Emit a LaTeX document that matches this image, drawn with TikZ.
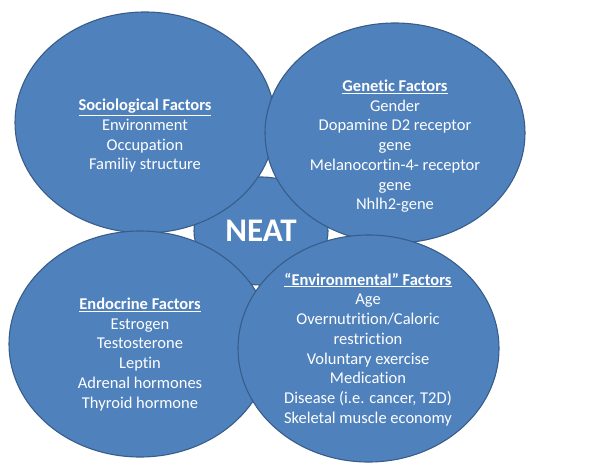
\documentclass[tikz,border=0pt]{standalone}
\usepackage{fontspec}
\setmainfont[Ligatures={TeX,NoCommon}]{Carlito}
\usetikzlibrary{shapes.geometric}
\definecolor{blobfill}{HTML}{4F81BD}
\definecolor{blobedge}{HTML}{385D8A}
\tikzset{
  blob/.style={ellipse, draw=blobedge, fill=blobfill, line width=1.1pt, inner sep=0pt},
  factortext/.style={text=white, align=center, font=\fontsize{16.5}{19.75}\selectfont, inner sep=0pt},
  neattext/.style={text=white, font=\fontsize{33}{36}\selectfont\bfseries, inner sep=0pt}
}
\newcommand{\facttitle}[1]{\underline{\textbf{#1}}}
\begin{document}
\begin{tikzpicture}[x=1pt,y=-1pt]
\useasboundingbox (0,0) rectangle (591,466);
\node[blob, minimum width=134pt, minimum height=108pt] (neat) at (261,231) {};
\node[blob, minimum width=260pt, minimum height=221pt] (soc) at (145,122.5) {};
\node[blob, minimum width=260pt, minimum height=220pt] (gen) at (395,133) {};
\node[blob, minimum width=262pt, minimum height=226pt] (endo) at (140,344) {};
\node[blob, minimum width=261pt, minimum height=227pt] (env) at (368.5,348.5) {};
\node[factortext] (soctext) at (145,135.7) {\facttitle{Sociological Factors}\\Environment\\Occupation\\Familiy structure};
\node[factortext] (gentext) at (395,146.2) {\facttitle{Genetic Factors}\\Gender\\Dopamine D2 receptor\\gene\\Melanocortin-4- receptor\\gene\\Nhlh2-gene};
\node[factortext] (endotext) at (140,354.2) {\facttitle{Endocrine Factors}\\Estrogen\\Testosterone\\Leptin\\Adrenal hormones\\Thyroid hormone};
\node[factortext] (envtext) at (368,349.5) {\facttitle{“Environmental” Factors}\\Age\\Overnutrition/Caloric\\restriction\\Voluntary exercise\\Medication\\Disease (i.e. cancer, T2D)\\Skeletal muscle economy};
\node[neattext] (neatlabel) at (261,231) {NEAT};
\end{tikzpicture}
\end{document}
